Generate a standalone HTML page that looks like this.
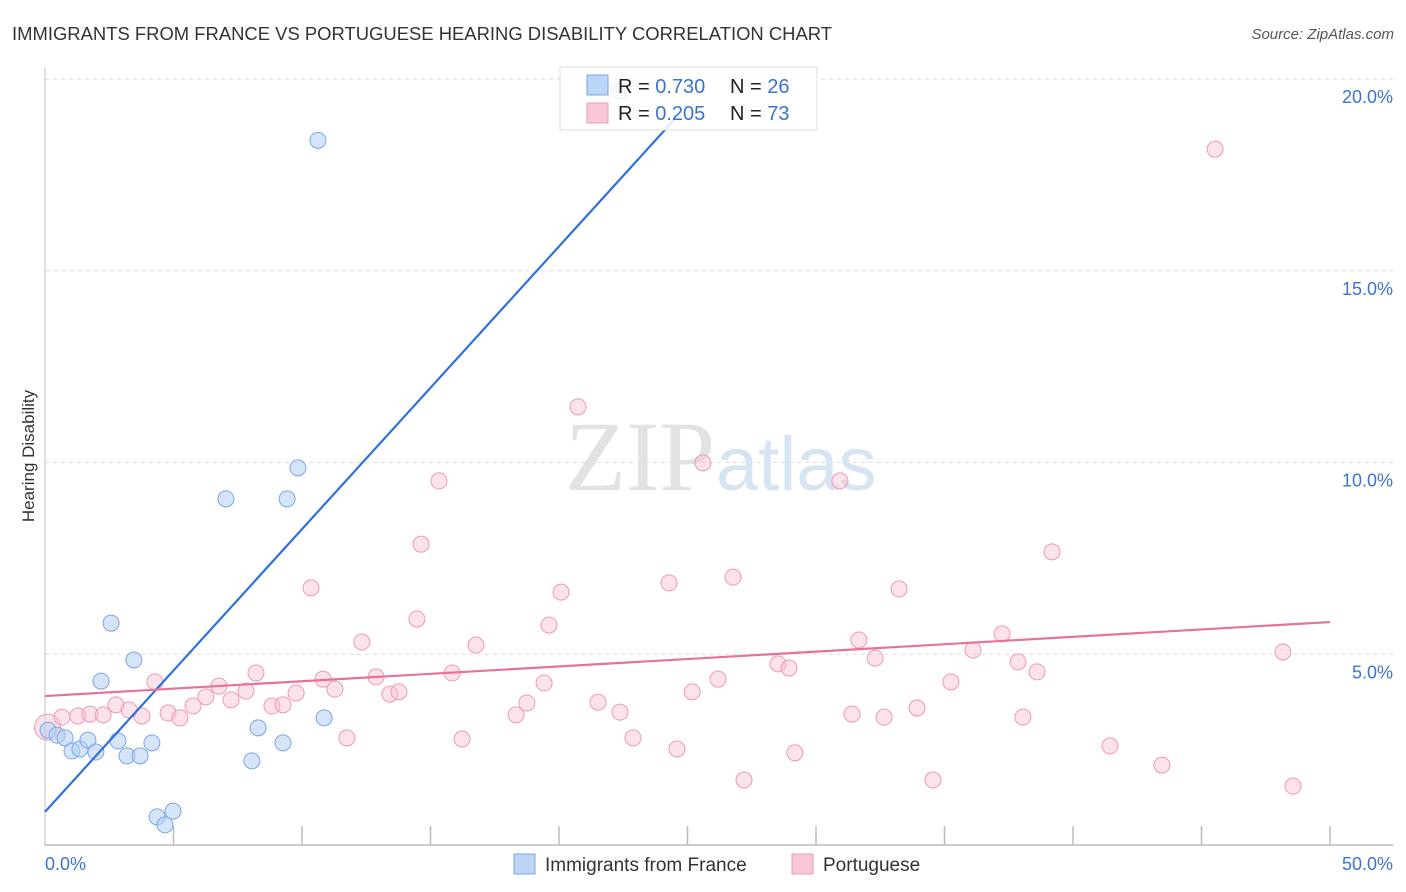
<!DOCTYPE html>
<html><head><meta charset="utf-8">
<style>
body{margin:0;background:#fff;font-family:"Liberation Sans",sans-serif;}
svg{display:block}
</style></head>
<body>
<svg id="chart" width="1406" height="892">
<text x="12" y="40" font-size="18" fill="#333" textLength="820" lengthAdjust="spacingAndGlyphs">IMMIGRANTS FROM FRANCE VS PORTUGUESE HEARING DISABILITY CORRELATION CHART</text>
<text x="1394" y="39" font-size="15" fill="#555" font-style="italic" text-anchor="end">Source: ZipAtlas.com</text>
<text x="34" y="456" font-size="17" fill="#333" transform="rotate(-90 34 456)" text-anchor="middle">Hearing Disability</text>
<g id="grid"></g>
<text x="715" y="490" font-size="100" fill="#e2e2e2" text-anchor="end" font-family="Liberation Serif,serif">ZIP</text>
<text x="716" y="490" font-size="76" fill="#d6e4f3">atlas</text>
<g id="marks"></g>
<g>
<rect x="560" y="67" width="257" height="63" fill="rgba(255,255,255,0.85)" stroke="#ddd"/>
<rect x="587" y="75" width="21" height="20" fill="#bcd4f5" stroke="#7aa6e6"/>
<rect x="587" y="103" width="21" height="20" fill="#f9c8d6" stroke="#ee9ab4"/>
<text x="618" y="93" font-size="20" fill="#222">R = <tspan fill="#3a73d0">0.730</tspan></text>
<text x="730" y="93" font-size="20" fill="#222">N = <tspan fill="#3a73d0">26</tspan></text>
<text x="618" y="120" font-size="20" fill="#222">R = <tspan fill="#3a73d0">0.205</tspan></text>
<text x="730" y="120" font-size="20" fill="#222">N = <tspan fill="#3a73d0">73</tspan></text>
</g>
<g>
<rect x="514" y="854" width="21" height="20" fill="#bcd4f5" stroke="#7aa6e6"/>
<text x="545" y="871" font-size="19" fill="#333">Immigrants from France</text>
<rect x="792" y="854" width="21" height="20" fill="#f9c8d6" stroke="#ee9ab4"/>
<text x="823" y="871" font-size="19" fill="#333">Portuguese</text>
</g>
</svg>
<script>
const blueX=[0.12,0.47,0.78,1.05,1.36,1.67,1.98,2.18,2.57,2.84,3.19,3.46,3.70,4.16,4.36,4.67,4.98,7.04,8.29,8.05,9.26,9.42,9.84,10.62,10.86,22.37];
const blueY=[3.02,2.89,2.82,2.48,2.53,2.76,2.45,4.30,5.81,2.74,2.35,4.85,2.35,2.69,0.76,0.55,0.91,9.05,3.08,2.22,2.69,9.05,9.86,18.4,3.34,19.69];
const pinkX=[0.1,0.66,1.28,1.75,2.26,2.76,3.27,3.77,4.28,4.79,5.25,5.76,6.26,6.77,7.24,7.82,8.21,8.83,9.26,9.77,10.35,10.82,11.28,11.75,12.33,12.88,13.42,13.77,14.47,14.63,15.33,15.84,16.23,16.77,18.33,18.75,19.42,19.61,20.08,20.74,21.52,22.37,22.88,24.28,24.59,25.18,25.6,26.19,26.77,27.2,28.52,28.95,29.18,30.93,31.4,31.67,32.3,32.65,33.23,33.93,34.55,35.25,36.11,37.24,37.86,38.05,38.6,39.18,41.44,43.46,45.53,48.17,48.56];
const pinkY=[3.1,3.36,3.39,3.44,3.42,3.68,3.55,3.39,4.28,3.47,3.34,3.65,3.89,4.17,3.81,4.04,4.51,3.65,3.68,3.99,6.73,4.35,4.09,2.82,5.32,4.41,3.96,4.02,5.92,7.87,9.52,4.51,2.79,5.24,3.42,3.73,4.25,5.76,6.62,11.45,3.75,3.49,2.82,6.86,2.53,4.02,9.99,4.35,7.01,1.72,4.75,4.64,2.43,9.52,3.44,5.37,4.9,3.36,6.7,3.6,1.72,4.28,5.11,5.53,4.8,3.36,4.54,7.67,2.61,2.11,18.17,5.06,1.56];
const blueTrend=[0,0.89,24.7,19.1];
const pinkTrend=[0,3.91,50,5.84];
const yTicks=[5,10,15,20];
const xTickVals=[5,10,15,20,25,30,35,40,45];
const NS='http://www.w3.org/2000/svg';
const X=v=>45+v*25.7;
const Y=v=>846-v*38.35;
function el(tag,attrs,parent){const e=document.createElementNS(NS,tag);for(const k in attrs)e.setAttribute(k,attrs[k]);parent.appendChild(e);return e;}
const grid=document.getElementById('grid');
const marks=document.getElementById('marks');
yTicks.forEach(t=>{
 const l=el('line',{x1:45,x2:1393,y1:Y(t),y2:Y(t),stroke:'#ddd','stroke-dasharray':'4,4'},grid);
 
 
 const tx=el('text',{x:1393,y:Y(t)+24,'font-size':18,fill:'#3a73d0','text-anchor':'end'},grid);
 tx.textContent=t.toFixed(1)+'%';
 
 
});
const ya=el('line',{x1:45,x2:45,y1:68,y2:846,stroke:'#ccc','stroke-width':1.2},grid);


const xa=el('line',{x1:45,x2:1393,y1:845,y2:845,stroke:'#bbb','stroke-width':1.5},grid);


xTickVals.concat([50]).forEach(t=>{
 const l=el('line',{x1:X(t),x2:X(t),y1:826,y2:845,stroke:'#bbb','stroke-width':1.5},grid);
 
 
});
const x0=el('text',{x:45,y:870,'font-size':18,fill:'#3a73d0'},grid);x0.textContent='0.0%';


const x1=el('text',{x:1393,y:870,'font-size':18,fill:'#3a73d0','text-anchor':'end'},grid);x1.textContent='50.0%';


pinkX.forEach((v,i)=>{
 const c=el('circle',{cx:X(v),cy:Y(pinkY[i]),r:i===0?13:8,fill:'rgba(248,190,208,0.45)',stroke:'#ee9ab4','stroke-width':1},marks);
 
 
});
blueX.forEach((v,i)=>{
 const c=el('circle',{cx:X(v),cy:Y(blueY[i]),r:8,fill:'rgba(180,205,242,0.55)',stroke:'#7aa6e6','stroke-width':1},marks);
 
 
});
const bt=el('line',{x1:X(blueTrend[0]),y1:Y(blueTrend[1]),x2:X(blueTrend[2]),y2:Y(blueTrend[3]),stroke:'#2f72d8','stroke-width':2.2},marks);


const pt=el('line',{x1:X(pinkTrend[0]),y1:Y(pinkTrend[1]),x2:X(pinkTrend[2]),y2:Y(pinkTrend[3]),stroke:'#e8709a','stroke-width':2.2},marks);


</script>
</body></html>
